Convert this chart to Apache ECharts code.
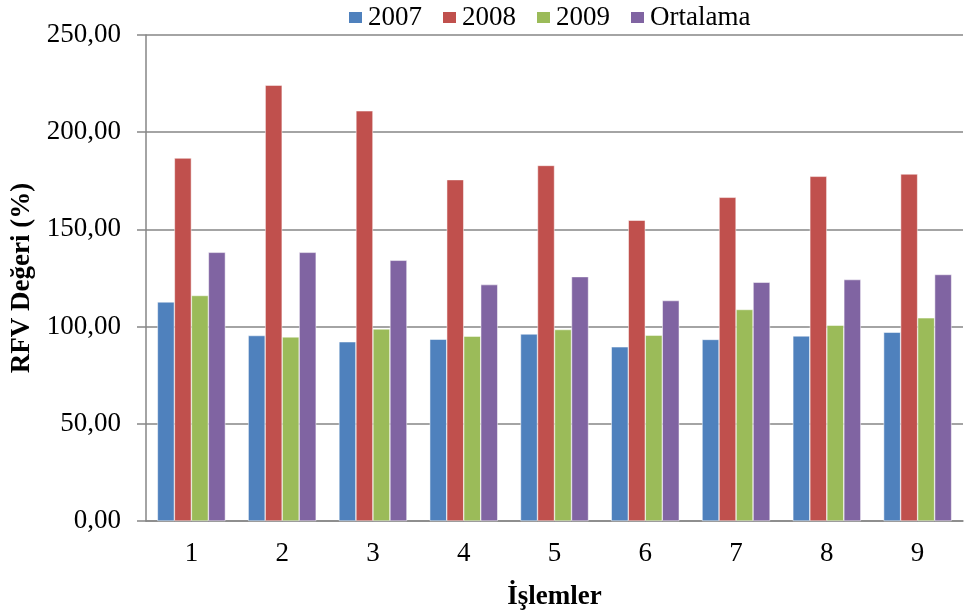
<!DOCTYPE html>
<html>
<head>
<meta charset="utf-8">
<script src="https://cdn.jsdelivr.net/npm/echarts@6/dist/echarts.min.js"></script>
<style>
html, body { margin: 0; padding: 0; background: #fff; }
#main { width: 966px; height: 614px; }
</style>
</head>
<body>
<div id="main"></div>
<script>
var categories = ['1', '2', '3', '4', '5', '6', '7', '8', '9'];
var seriesNames = ['2007', '2008', '2009', 'Ortalama'];
var data2007 = [112.7, 95.4, 92.2, 93.5, 96.2, 89.6, 93.4, 95.2, 97.1];
var data2008 = [186.7, 224.2, 211.0, 175.6, 182.9, 154.7, 166.5, 177.3, 178.5];
var data2009 = [116.0, 94.7, 98.8, 95.1, 98.5, 95.6, 108.8, 100.7, 104.5];
var dataAvg = [138.2, 138.2, 134.1, 121.6, 125.7, 113.4, 122.8, 124.2, 126.8];
var colors = ['#4F81BD', '#C0504D', '#9BBB59', '#8064A2'];

var myChart = echarts.init(document.getElementById('main'));

var fontFam = '"Liberation Serif", "Times New Roman", serif';

function makeSeries(name, values, color) {
    return {
        name: name,
        type: 'bar',
        data: values,
        barWidth: 17,
        barGap: '0%',
        itemStyle: { color: color, borderColor: '#ffffff', borderWidth: 0.5 }
    };
}

var option = {
    animation: false,
    backgroundColor: '#ffffff',
    legend: {
        top: 4,
        left: 347,
        padding: 0,
        itemWidth: 15,
        itemHeight: 13,
        itemGap: 19,
        icon: 'rect',
        textStyle: { fontFamily: fontFam, fontSize: 27, color: '#000' },
        data: seriesNames
    },
    grid: { left: 146, right: 3, top: 35, bottom: 93, outerBoundsMode: 'none' },
    xAxis: {
        type: 'category',
        data: categories,
        name: 'İşlemler',
        nameLocation: 'middle',
        nameGap: 63,
        nameTextStyle: { fontFamily: fontFam, fontSize: 27, fontWeight: 'bold', color: '#000' },
        axisLine: { lineStyle: { color: '#868686', width: 1.5 } },
        axisTick: { show: false },
        axisLabel: { fontFamily: fontFam, fontSize: 27, color: '#000', margin: 19 }
    },
    yAxis: {
        type: 'value',
        min: 0,
        max: 250,
        interval: 50,
        name: 'RFV Değeri (%)',
        nameLocation: 'middle',
        nameGap: 110,
        nameRotate: 90,
        nameTextStyle: { fontFamily: fontFam, fontSize: 27, fontWeight: 'bold', color: '#000' },
        axisLine: { show: true, lineStyle: { color: '#868686', width: 1.5 } },
        axisTick: { show: true, length: 9, lineStyle: { color: '#868686', width: 1.5 } },
        splitLine: { lineStyle: { color: '#868686', width: 1.5 } },
        axisLabel: {
            fontFamily: fontFam, fontSize: 27, color: '#000', margin: 25,
            formatter: function (v) { return v.toFixed(2).replace('.', ','); }
        }
    },
    series: [
        makeSeries(seriesNames[0], data2007, colors[0]),
        makeSeries(seriesNames[1], data2008, colors[1]),
        makeSeries(seriesNames[2], data2009, colors[2]),
        makeSeries(seriesNames[3], dataAvg, colors[3])
    ]
};

myChart.setOption(option);
</script>
</body>
</html>
